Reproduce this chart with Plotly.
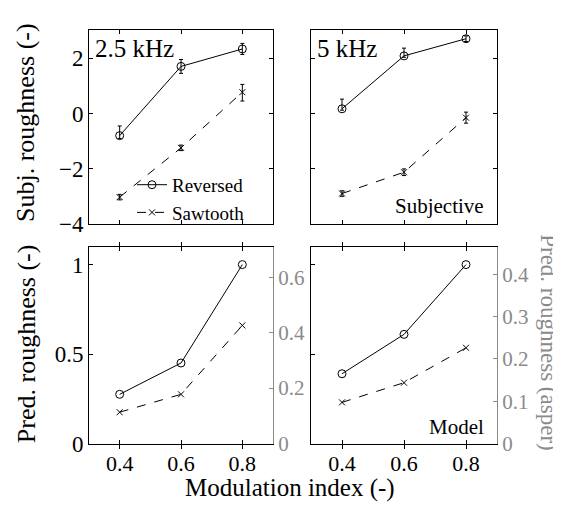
import plotly.graph_objects as go

# ---------------- data ----------------
mod_index = [0.4, 0.6, 0.8]

# Subjective roughness (-), 2.5 kHz
subj25_rev = [-0.80, 1.70, 2.33]
subj25_rev_up = [0.35, 0.25, 0.20]
subj25_rev_dn = [0.10, 0.25, 0.20]
subj25_saw = [-3.02, -1.24, 0.77]
subj25_saw_up = [0.10, 0.10, 0.28]
subj25_saw_dn = [0.10, 0.10, 0.32]

# Subjective roughness (-), 5 kHz
subj5_rev = [0.17, 2.08, 2.70]
subj5_rev_up = [0.35, 0.28, 0.10]
subj5_rev_dn = [0.05, 0.05, 0.10]
subj5_saw = [-2.89, -2.12, -0.15]
subj5_saw_up = [0.10, 0.12, 0.20]
subj5_saw_dn = [0.10, 0.12, 0.20]

# Predicted roughness (-), normalised
pred25_rev = [0.275, 0.45, 1.00]
pred25_saw = [0.175, 0.275, 0.66]
pred5_rev = [0.39, 0.61, 1.00]
pred5_saw = [0.23, 0.34, 0.535]

# asper value corresponding to normalised 1.0
asper_ref = [0.646, 0.423]

y_top_range = [-4, 3]
y_bot_range = [0, 1.1]
x_range = [0.3, 0.9]

FONT = "Liberation Serif, Times New Roman, serif"
GRAY = "#8a8a8a"
W, H = 561, 506

def px_x(a, b):
    return [a / W, b / W]

def px_y(top, bot):
    return [1 - bot / H, 1 - top / H]

fig = go.Figure()

def add_pair(xa, ya, rev, saw, rev_up=None, rev_dn=None, saw_up=None, saw_dn=None, legend=False):
    ekw = dict(type="data", symmetric=False, color="black", thickness=1, width=2)
    fig.add_trace(go.Scatter(
        x=mod_index, y=rev, xaxis=xa, yaxis=ya, name="Reversed",
        mode="lines+markers", line=dict(color="black", width=1),
        marker=dict(symbol="circle-open", size=8, color="black", line=dict(color="black", width=1)),
        error_y=dict(array=rev_up, arrayminus=rev_dn, **ekw) if rev_up else None,
        showlegend=legend))
    fig.add_trace(go.Scatter(
        x=mod_index, y=saw, xaxis=xa, yaxis=ya, name="Sawtooth",
        mode="lines+markers", line=dict(color="black", width=1, dash="dash"),
        marker=dict(symbol="x-thin-open", size=6, color="black", line=dict(color="black", width=1)),
        error_y=dict(array=saw_up, arrayminus=saw_dn, **ekw) if saw_up else None,
        showlegend=legend))

add_pair("x", "y", subj25_rev, subj25_saw, subj25_rev_up, subj25_rev_dn, subj25_saw_up, subj25_saw_dn, legend=True)
add_pair("x2", "y2", subj5_rev, subj5_saw, subj5_rev_up, subj5_rev_dn, subj5_saw_up, subj5_saw_dn)
add_pair("x3", "y3", pred25_rev, pred25_saw)
add_pair("x4", "y4", pred5_rev, pred5_saw)
# empty traces to instantiate the right (asper) axes
fig.add_trace(go.Scatter(x=[], y=[], xaxis="x3", yaxis="y5", showlegend=False))
fig.add_trace(go.Scatter(x=[], y=[], xaxis="x4", yaxis="y6", showlegend=False))

tickfont = dict(family=FONT, size=22, color="black")
common_x = dict(range=x_range, tickvals=mod_index, ticktext=["0.4", "0.6", "0.8"],
                ticks="inside", ticklen=4, tickcolor="black", showline=True, linecolor="black",
                linewidth=1, mirror="allticks", showgrid=False, zeroline=False, tickfont=tickfont)
common_y = dict(ticks="inside", ticklen=4, tickcolor="black", showline=True, linecolor="black",
                linewidth=1, showgrid=False, zeroline=False,
                tickfont=dict(family=FONT, size=23, color="black"))

dx1 = px_x(81, 265)
dx2 = px_x(303, 489)
dyt = px_y(23, 222)
dyb = px_y(245, 447)

layout = dict(
    width=W, height=H, margin=dict(l=0, r=0, t=0, b=0),
    plot_bgcolor="white", paper_bgcolor="white",
    font=dict(family=FONT, color="black"),
    xaxis=dict(domain=dx1, anchor="y", showticklabels=False, **common_x),
    yaxis=dict(domain=dyt, anchor="x", range=y_top_range, tickvals=[-4, -2, 0, 2],
               ticktext=["\u22124", "\u22122", "0", "2"], mirror="allticks", **common_y),
    xaxis2=dict(domain=dx2, anchor="y2", showticklabels=False, **common_x),
    yaxis2=dict(domain=dyt, anchor="x2", range=y_top_range, tickvals=[-4, -2, 0, 2],
                showticklabels=False, mirror="allticks", **common_y),
    xaxis3=dict(domain=dx1, anchor="y3", **common_x),
    yaxis3=dict(domain=dyb, anchor="x3", range=y_bot_range, tickvals=[0, 0.5, 1],
                ticktext=["0", "0.5", "1"], **common_y),
    xaxis4=dict(domain=dx2, anchor="y4", **common_x),
    yaxis4=dict(domain=dyb, anchor="x4", range=y_bot_range, tickvals=[0, 0.5, 1],
                showticklabels=False, **common_y),
    yaxis5=dict(overlaying="y3", anchor="x3", side="right",
                range=[0, y_bot_range[1] * asper_ref[0]], tickvals=[0, 0.2, 0.4, 0.6],
                ticktext=["0", "0.2", "0.4", "0.6"],
                ticks="inside", ticklen=4, tickcolor=GRAY, showline=True, linecolor=GRAY,
                linewidth=1, showgrid=False, zeroline=False,
                tickfont=dict(family=FONT, size=21, color=GRAY)),
    yaxis6=dict(overlaying="y4", anchor="x4", side="right",
                range=[0, y_bot_range[1] * asper_ref[1]], tickvals=[0, 0.1, 0.2, 0.3, 0.4],
                ticktext=["0", "0.1", "0.2", "0.3", "0.4"],
                ticks="inside", ticklen=4, tickcolor=GRAY, showline=True, linecolor=GRAY,
                linewidth=1, showgrid=False, zeroline=False,
                tickfont=dict(family=FONT, size=21, color=GRAY)),
    legend=dict(x=124 / W, y=1 - 162 / H, xanchor="left", yanchor="top",
                bgcolor="rgba(0,0,0,0)", font=dict(family=FONT, size=19, color="black"),
                tracegroupgap=0, itemwidth=30, traceorder="normal"),
)
fig.update_layout(**layout)

def ann(text, x, y, size, xanchor="center", angle=0, color="black"):
    fig.add_annotation(text=text, x=x / W, y=1 - y / H, xref="paper", yref="paper",
                       xanchor=xanchor, yanchor="middle", showarrow=False, textangle=angle,
                       font=dict(family=FONT, size=size, color=color))

ann("2.5 kHz", 85, 42, 25, xanchor="left")
ann("5 kHz", 307, 42, 25, xanchor="left")
ann("Subjective", 478, 203, 21, xanchor="right")
ann("Model", 478, 430, 21, xanchor="right")
ann("Subj. roughness (-)", 18, 118, 26, angle=-90)
ann("Pred. roughness (-)", 18, 345, 26, angle=-90)
ann("Pred. roughness (asper)", 541, 343, 23, angle=90, color=GRAY)
ann("Modulation index (-)", 282, 493, 25)

fig.write_html("out.html")
